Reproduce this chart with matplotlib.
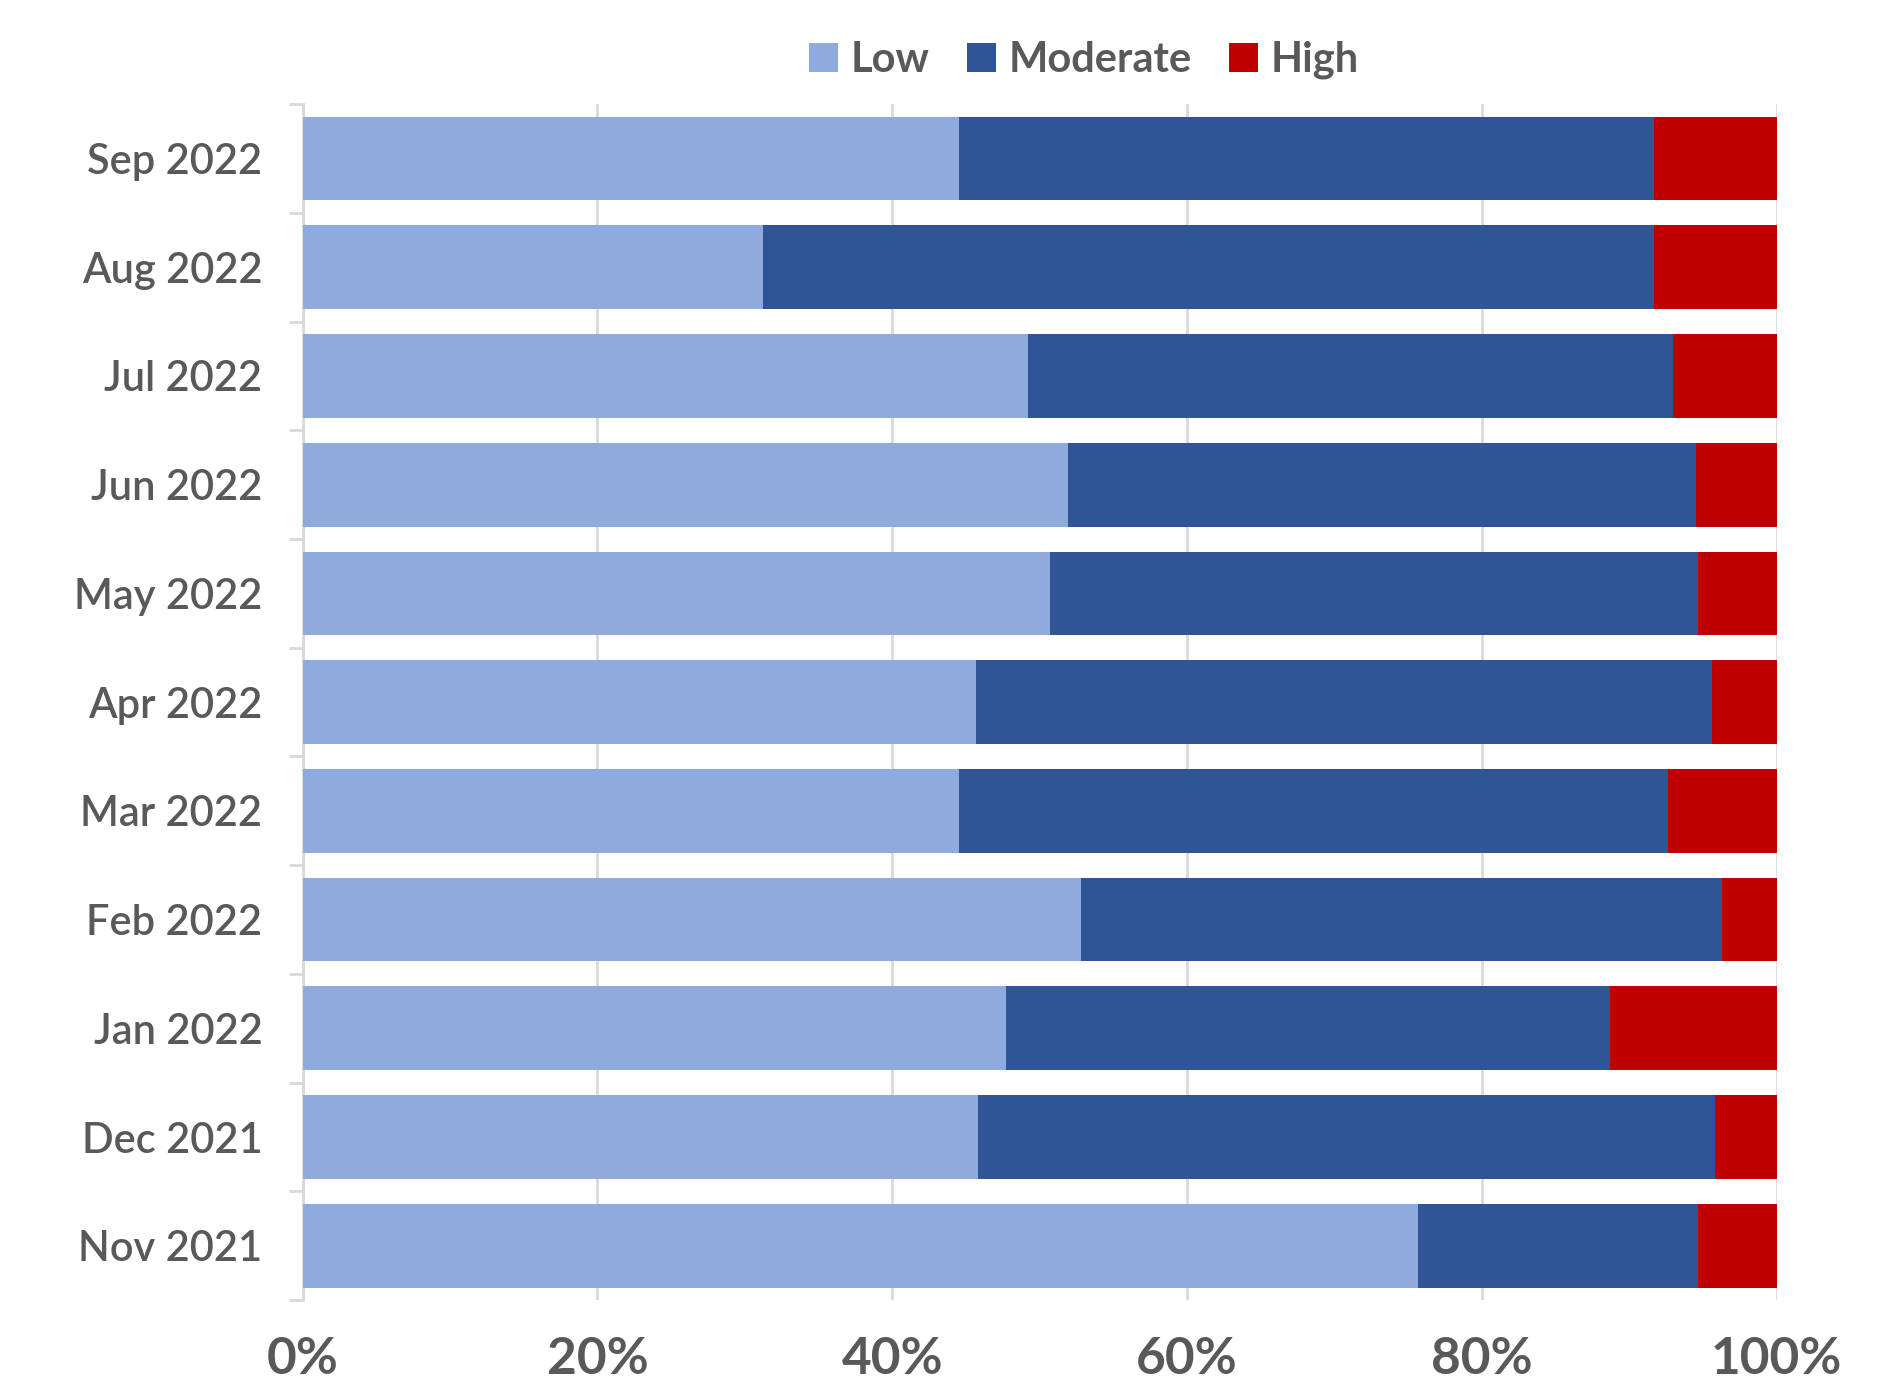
import matplotlib
matplotlib.use("Agg")
import matplotlib.pyplot as plt
import numpy as np

plt.rcParams['font.family'] = ['Lato', 'DejaVu Sans']

months = ['Sep 2022', 'Aug 2022', 'Jul 2022', 'Jun 2022', 'May 2022', 'Apr 2022',
          'Mar 2022', 'Feb 2022', 'Jan 2022', 'Dec 2021', 'Nov 2021']
low = np.array([44.5, 31.2, 49.2, 51.9, 50.7, 45.7, 44.5, 52.8, 47.7, 45.8, 75.7])
moderate = np.array([47.2, 60.5, 43.8, 42.6, 44.0, 49.9, 48.1, 43.5, 41.0, 50.0, 19.0])
high = 100 - low - moderate

grey = '#595959'
fig = plt.figure(figsize=(18.8, 13.89), dpi=100)
ax = fig.add_axes([0.161, 0.064, 0.784, 0.861])

y = np.arange(len(months))
h = 0.77
ax.barh(y, low, height=h, color='#8FAADC', label='Low', zorder=3)
ax.barh(y, moderate, left=low, height=h, color='#2F5597', label='Moderate', zorder=3)
ax.barh(y, high, left=low + moderate, height=h, color='#C00000', label='High', zorder=3)

ax.set_ylim(len(months) - 0.5, -0.5)
ax.set_xlim(0, 100)
ax.set_yticks(y)
ax.set_yticklabels(months, fontsize=30, color=grey, fontweight='semibold')
ax.set_yticks(np.arange(len(months) + 1) - 0.5, minor=True)
ax.tick_params(axis='y', which='major', length=0, pad=29)
ax.tick_params(axis='y', which='minor', length=10, color='#D9D9D9', width=2)

ax.set_xticks(np.arange(0, 101, 20))
ax.set_xticklabels([f'{v}%' for v in range(0, 101, 20)], fontsize=37,
                   fontweight='bold', color=grey)
ax.tick_params(axis='x', length=0, pad=26)
ax.grid(axis='x', color='#D9D9D9', linewidth=2, zorder=0)

for s in ['top', 'right', 'bottom']:
    ax.spines[s].set_visible(False)
ax.spines['left'].set_color('#D9D9D9')
ax.spines['left'].set_linewidth(2)

leg = ax.legend(loc='lower center', bbox_to_anchor=(0.53, 1.0), ncol=3, frameon=False,
                fontsize=30, handlelength=0.7, handleheight=0.7, handletextpad=0.3,
                columnspacing=0.9, borderaxespad=0.2)
for t in leg.get_texts():
    t.set_color(grey)
    t.set_fontweight('bold')

fig.savefig('out.png', dpi=100, facecolor='white')
